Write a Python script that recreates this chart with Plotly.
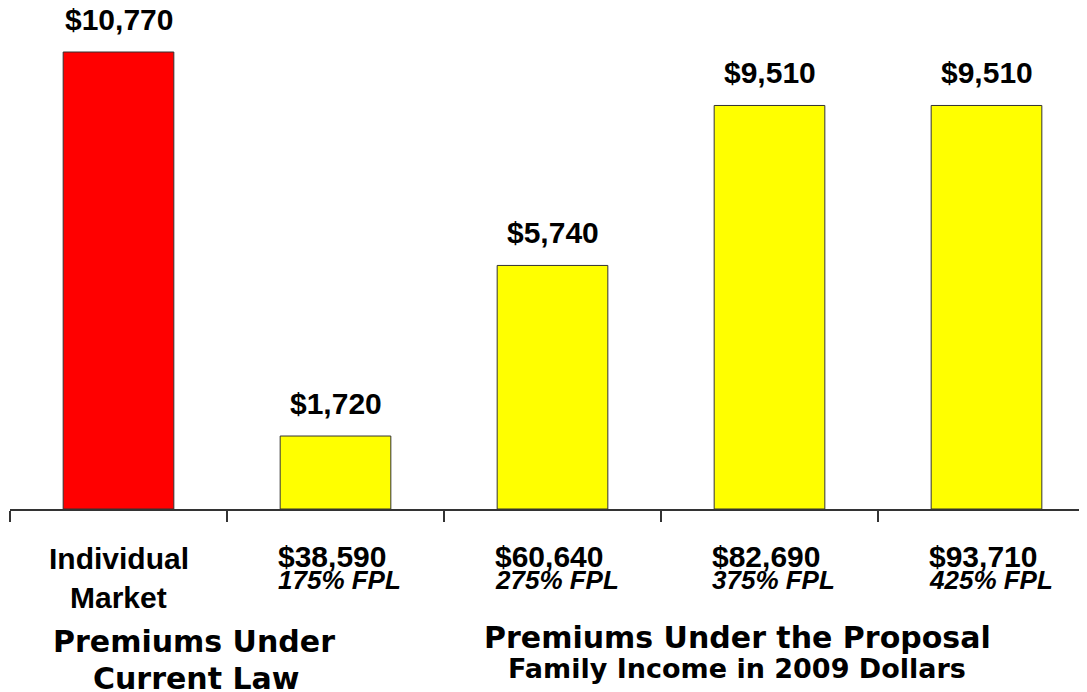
import plotly.graph_objects as go

categories = ["Individual Market", "$38,590", "$60,640", "$82,690", "$93,710"]
fpl_labels = ["", "175% FPL", "275% FPL", "375% FPL", "425% FPL"]
premiums = [10770, 1720, 5740, 9510, 9510]
bar_colors = ["#FF0000", "#FFFF00", "#FFFF00", "#FFFF00", "#FFFF00"]

OFF = 8  # default page body margin
W, H = 1087 - OFF, 692 - OFF
ML, MB = 2, 183
PLOT_H = H - MB
PLOT_W = W - ML
CAT_PX = 217.0
x_idx = list(range(len(categories)))

def py(ypix):
    return (PLOT_H - (ypix - OFF)) / PLOT_H

def px(xpix):
    return (xpix - OFF - ML) / PLOT_W

fig = go.Figure()
fig.add_trace(go.Bar(
    x=x_idx, y=premiums, width=0.51,
    marker=dict(color=bar_colors, line=dict(color="#333333", width=1)),
    hoverinfo="skip",
))

ann = []
BOLD = "Liberation Sans"
for i, v in enumerate(premiums):
    ann.append(dict(x=i, y=v, xref="x", yref="y", text="<b>${:,}</b>".format(v),
                    showarrow=False, xanchor="center", yanchor="middle", yshift=33,
                    font=dict(family=BOLD, size=30, color="black")))

ann.append(dict(x=0, y=py(558), xref="x", yref="paper", text="<b>Individual</b>",
                showarrow=False, xanchor="center", yanchor="middle",
                font=dict(family=BOLD, size=30, color="black")))
ann.append(dict(x=0, y=py(597), xref="x", yref="paper", text="<b>Market</b>",
                showarrow=False, xanchor="center", yanchor="middle",
                font=dict(family=BOLD, size=30, color="black")))
for i in range(1, len(categories)):
    ann.append(dict(x=i, y=py(556), xref="x", yref="paper", text="<b>%s</b>" % categories[i],
                    showarrow=False, xanchor="left", xshift=-60, yanchor="middle",
                    font=dict(family=BOLD, size=30, color="black")))
    ann.append(dict(x=i, y=py(580), xref="x", yref="paper", text="<b><i>%s</i></b>" % fpl_labels[i],
                    showarrow=False, xanchor="left", xshift=-60, yanchor="middle",
                    font=dict(family=BOLD, size=26, color="black")))

TITLE = "DejaVu Sans"
ann.append(dict(x=px(194), y=py(641), xref="paper", yref="paper",
                text="<b>Premiums Under</b>", showarrow=False, xanchor="center", yanchor="middle",
                font=dict(family=TITLE, size=30, color="black")))
ann.append(dict(x=px(196), y=py(678), xref="paper", yref="paper",
                text="<b>Current Law</b>", showarrow=False, xanchor="center", yanchor="middle",
                font=dict(family=TITLE, size=30, color="black")))
ann.append(dict(x=px(737), y=py(637), xref="paper", yref="paper",
                text="<b>Premiums Under the Proposal</b>", showarrow=False, xanchor="center",
                yanchor="middle", font=dict(family=TITLE, size=30, color="black")))
ann.append(dict(x=px(737), y=py(668), xref="paper", yref="paper",
                text="<b>Family Income in 2009 Dollars</b>", showarrow=False, xanchor="center",
                yanchor="middle", font=dict(family=TITLE, size=27, color="black")))

fig.update_layout(
    width=W, height=H,
    margin=dict(l=ML, r=0, t=0, b=MB, pad=0),
    paper_bgcolor="white", plot_bgcolor="white",
    showlegend=False,
    annotations=ann,
    xaxis=dict(range=[-0.5, -0.5 + PLOT_W / CAT_PX], tickmode="array",
               tickvals=[-0.5, 0.5, 1.5, 2.5, 3.5], ticks="outside", ticklen=11,
               tickcolor="#333333", tickwidth=1.5, showticklabels=False,
               showline=True, linecolor="#333333", linewidth=1.5,
               showgrid=False, zeroline=False, fixedrange=True),
    yaxis=dict(range=[0, 10770 * PLOT_H / 457.0], visible=False, showgrid=False,
               zeroline=False, fixedrange=True),
)
fig.write_html("out.html")
